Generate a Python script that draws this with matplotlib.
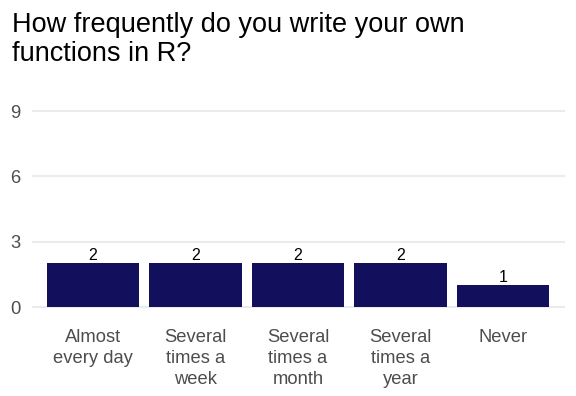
import matplotlib.pyplot as plt
import numpy as np

plt.rcParams['font.family'] = ['Liberation Sans', 'DejaVu Sans']

categories = ["Almost\nevery day", "Several\ntimes a\nweek", "Several\ntimes a\nmonth",
              "Several\ntimes a\nyear", "Never"]
counts = [2, 2, 2, 2, 1]
y_ticks = [0, 3, 6, 9]
title = "How frequently do you write your own\nfunctions in R?"

fig = plt.figure(figsize=(5.76, 3.96), dpi=100)
ax = fig.add_axes([31.5 / 576, (396 - 316.8) / 396, 533 / 576, (316.8 - 101.2) / 396])

x = np.arange(1, len(categories) + 1)
ax.bar(x, counts, width=0.9, color="#120f5c", zorder=2)
for xi, c in zip(x, counts):
    ax.text(xi, c, str(c), ha="center", va="bottom", fontsize=11.5, color="black")

ax.set_xlim(0.4, len(categories) + 0.6)
ax.set_ylim(-0.45, 9.45)
ax.set_yticks(y_ticks)
ax.set_xticks(x)
ax.set_xticklabels(categories, linespacing=1.28)
ax.tick_params(axis="both", length=0, labelsize=13.2, labelcolor="#4d4d4d")
ax.tick_params(axis="x", pad=9)
ax.tick_params(axis="y", pad=8)
ax.grid(axis="y", color="#ebebeb", linewidth=1.5, zorder=0)
for s in ax.spines.values():
    s.set_visible(False)

fig.text(12 / 576, 1 - 12 / 396, title, fontsize=19.5, ha="left", va="top", linespacing=1.17)

fig.savefig("out.png", dpi=100)
